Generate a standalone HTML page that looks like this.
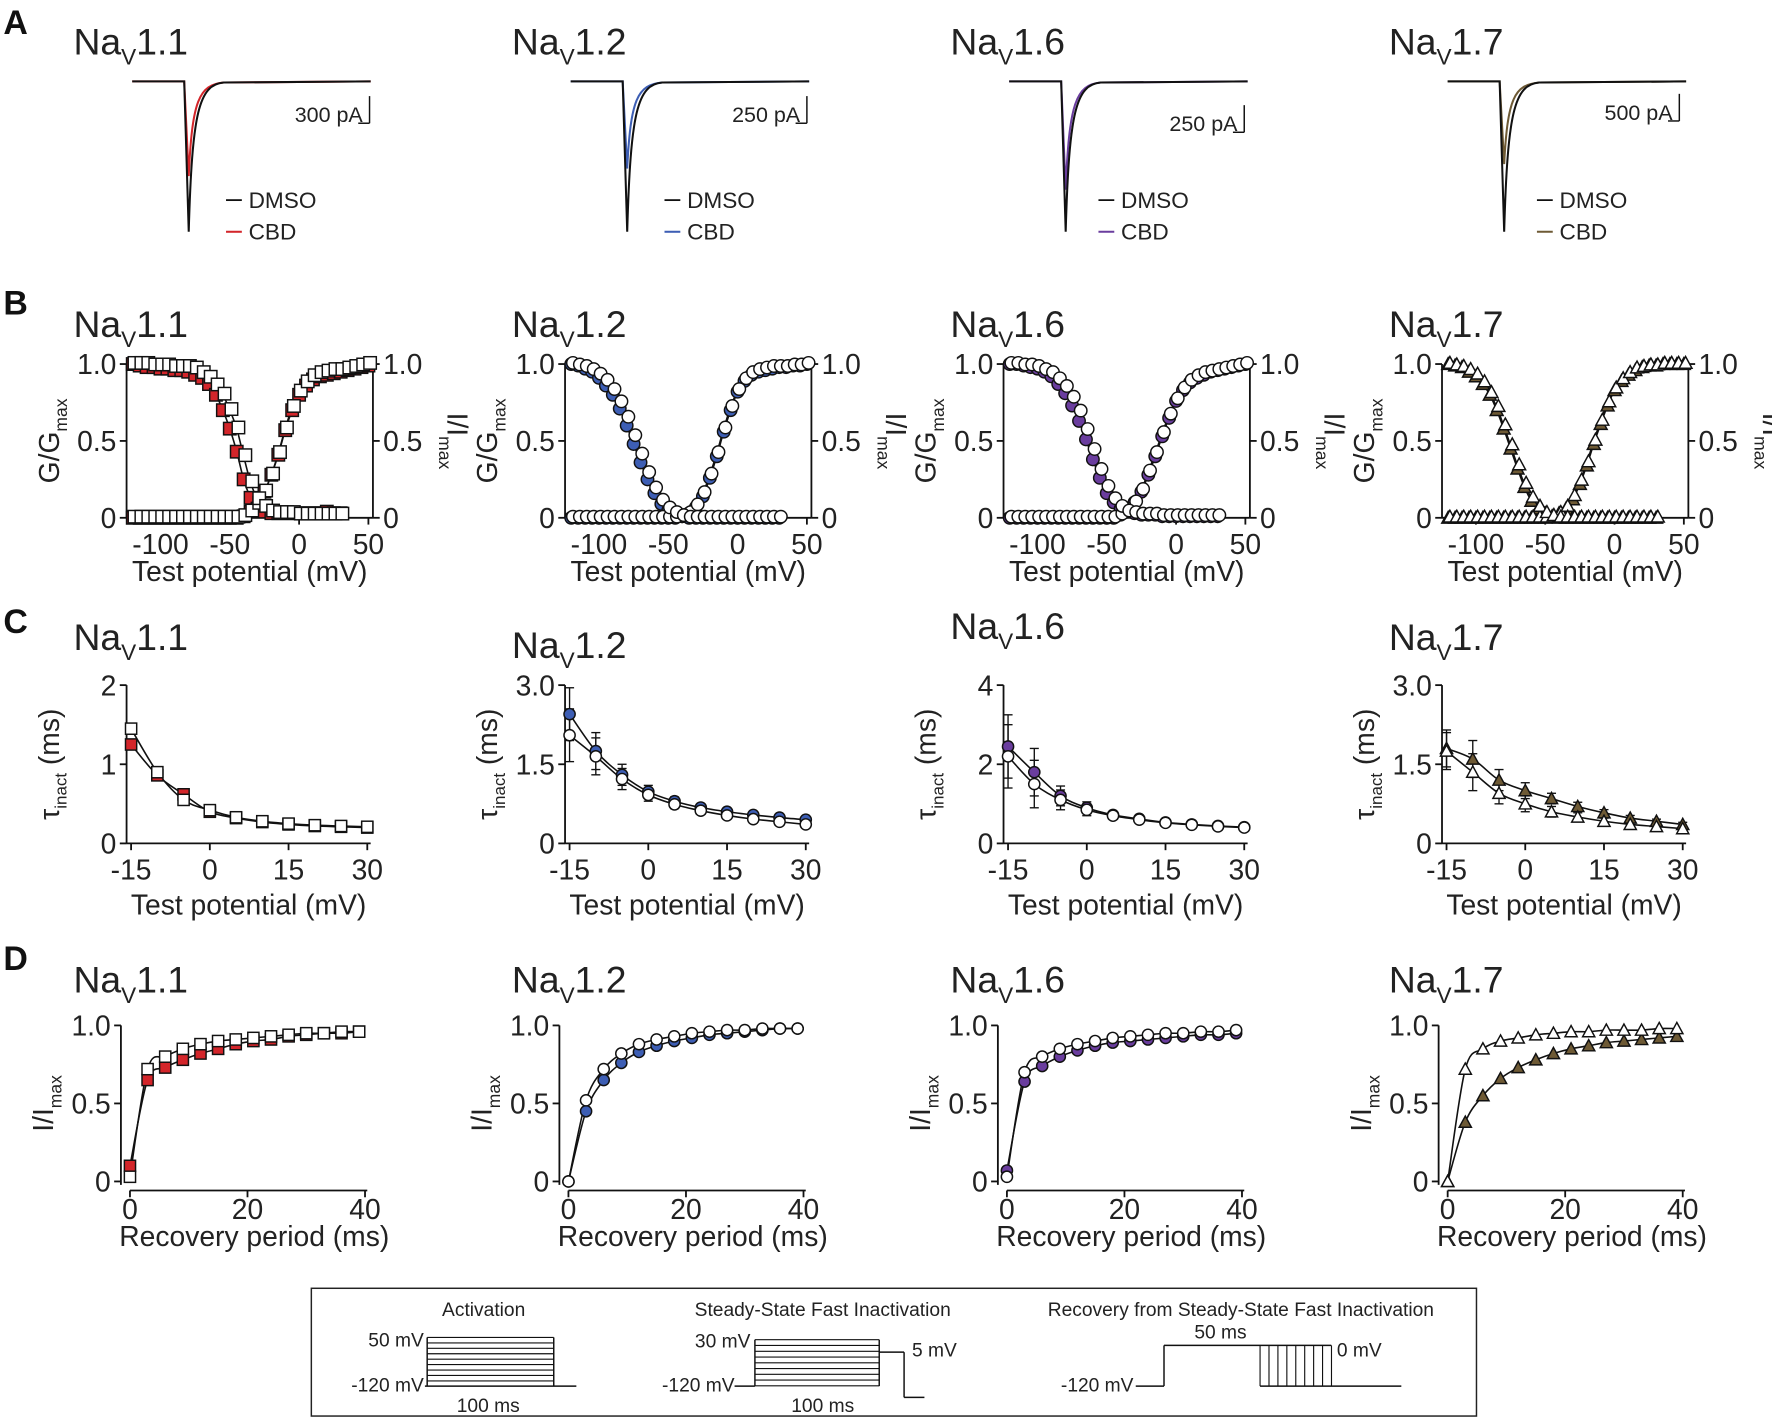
<!DOCTYPE html>
<html><head><meta charset="utf-8">
<style>
html,body{margin:0;padding:0;background:#fff;}
svg{display:block;font-family:"Liberation Sans",Arial,sans-serif;}
</style></head>
<body>
<svg id="fig" width="1772" height="1420" viewBox="0 0 1568 1256" preserveAspectRatio="none" xmlns="http://www.w3.org/2000/svg">
<g id="root"></g>
</svg>
<script>
// ---------- DATA ----------
const panelIds = ["1.1","1.2","1.6","1.7"];
const cbdColors = ["#d3252a","#3d5eb4","#6a3d9e","#6e5a35"];
const markers = ["square","circle","circle","triangle"];
// Row B: activation (V -120..50 step 5) and inactivation (V -120..30 step 5)
const actV = [-120,-115,-110,-105,-100,-95,-90,-85,-80,-75,-70,-65,-60,-55,-50,-45,-40,-35,-30,-25,-20,-15,-10,-5,0,5,10,15,20,25,30,35,40,45,50];
const inactV = [-120,-115,-110,-105,-100,-95,-90,-85,-80,-75,-70,-65,-60,-55,-50,-45,-40,-35,-30,-25,-20,-15,-10,-5,0,5,10,15,20,25,30];
const actDMSO = [
 [0,0,0,0,0,0,0,0,0,0,0,0,0,0,0,0,0.01,0.04,0.09,0.17,0.28,0.42,0.58,0.72,0.82,0.88,0.92,0.94,0.95,0.96,0.96,0.97,0.98,0.99,1.0],
 [0,0,0,0,0,0,0,0,0,0,0,0,0,0,0,0,0.01,0.03,0.08,0.16,0.28,0.42,0.58,0.72,0.83,0.9,0.94,0.96,0.97,0.98,0.98,0.98,0.99,0.99,1.0],
 [0,0,0,0,0,0,0,0,0,0,0,0,0,0,0,0,0.02,0.05,0.1,0.18,0.3,0.42,0.55,0.67,0.77,0.84,0.89,0.92,0.94,0.95,0.96,0.97,0.98,0.99,1.0],
 [0,0,0,0,0,0,0,0,0,0,0,0,0,0,0,0.01,0.03,0.07,0.14,0.24,0.36,0.5,0.63,0.75,0.84,0.9,0.94,0.97,0.98,0.99,0.99,1.0,1.0,1.0,1.0]];
const actCBD = [
 [0,0,0,0,0,0,0,0,0,0,0,0,0,0,0,0,0.01,0.04,0.09,0.17,0.28,0.41,0.57,0.7,0.8,0.86,0.9,0.92,0.93,0.94,0.95,0.96,0.97,0.98,0.99],
 [0,0,0,0,0,0,0,0,0,0,0,0,0,0,0,0,0.01,0.03,0.07,0.14,0.26,0.4,0.56,0.7,0.82,0.89,0.93,0.95,0.96,0.97,0.98,0.98,0.99,0.99,1.0],
 [0,0,0,0,0,0,0,0,0,0,0,0,0,0,0,0,0.02,0.05,0.1,0.17,0.28,0.4,0.53,0.65,0.76,0.83,0.88,0.91,0.93,0.95,0.96,0.97,0.98,0.99,1.0],
 [0,0,0,0,0,0,0,0,0,0,0,0,0,0,0,0.01,0.03,0.06,0.12,0.22,0.34,0.48,0.61,0.73,0.83,0.89,0.93,0.96,0.98,0.99,0.99,1.0,1.0,1.0,1.0]];
const inactDMSO = [
 [1,1,1,0.99,0.99,0.99,0.98,0.98,0.98,0.97,0.94,0.91,0.86,0.8,0.7,0.58,0.4,0.23,0.12,0.07,0.04,0.03,0.03,0.03,0.02,0.02,0.02,0.02,0.02,0.02,0.02],
 [1,0.99,0.98,0.96,0.93,0.89,0.83,0.75,0.65,0.53,0.41,0.29,0.19,0.11,0.06,0.03,0.01,0,0,0,0,0,0,0,0,0,0,0,0,0,0],
 [1,1,0.99,0.99,0.98,0.96,0.94,0.9,0.85,0.78,0.69,0.57,0.44,0.31,0.2,0.12,0.07,0.04,0.03,0.02,0.02,0.02,0.01,0.01,0.01,0.01,0.01,0.01,0.01,0.01,0.01],
 [1,0.99,0.98,0.96,0.93,0.88,0.81,0.72,0.6,0.47,0.34,0.22,0.13,0.07,0.03,0.01,0,0,0,0,0,0,0,0,0,0,0,0,0,0,0]];
const inactCBD = [
 [1,0.99,0.98,0.98,0.97,0.97,0.96,0.96,0.95,0.93,0.91,0.87,0.8,0.7,0.58,0.43,0.25,0.13,0.06,0.04,0.03,0.03,0.03,0.03,0.03,0.03,0.03,0.03,0.04,0.03,0.03],
 [1,0.99,0.97,0.95,0.91,0.86,0.8,0.71,0.6,0.48,0.36,0.25,0.16,0.09,0.05,0.02,0.01,0,0,0,0,0,0,0,0,0,0,0,0,0,0],
 [1,1,0.99,0.98,0.97,0.95,0.92,0.87,0.81,0.73,0.63,0.51,0.38,0.26,0.16,0.1,0.06,0.04,0.03,0.02,0.02,0.02,0.01,0.01,0.01,0.01,0.01,0.01,0.01,0.01,0.01],
 [1,0.99,0.98,0.95,0.92,0.87,0.8,0.7,0.58,0.45,0.32,0.2,0.11,0.06,0.03,0.01,0,0,0,0,0,0,0,0,0,0,0,0,0,0,0]];
// Row C: tau inact (V -15..30 step 5)
const tauV = [-15,-10,-5,0,5,10,15,20,25,30];
const tauMax = [2,3,4,3];
const tauTicks = [["0","1","2"],["0","1.5","3.0"],["0","2","4"],["0","1.5","3.0"]];
const tauDMSO = [
 [1.45,0.9,0.55,0.42,0.33,0.28,0.25,0.23,0.22,0.21],
 [2.05,1.65,1.22,0.92,0.74,0.62,0.53,0.46,0.41,0.36],
 [2.2,1.5,1.1,0.85,0.7,0.6,0.52,0.47,0.43,0.4],
 [1.75,1.35,0.95,0.75,0.6,0.5,0.42,0.36,0.32,0.28]];
const tauCBD = [
 [1.25,0.86,0.62,0.4,0.32,0.27,0.24,0.22,0.21,0.2],
 [2.45,1.75,1.3,0.98,0.8,0.68,0.6,0.54,0.49,0.45],
 [2.45,1.8,1.2,0.9,0.72,0.62,0.53,0.48,0.44,0.41],
 [1.8,1.6,1.2,1.0,0.85,0.7,0.58,0.48,0.42,0.36]];
const tauErr = [
 [0.05,0.05,0.05,0.03,0.02,0.02,0.02,0.02,0.02,0.02],
 [0.5,0.35,0.2,0.12,0.08,0.05,0.04,0.03,0.03,0.03],
 [0.8,0.6,0.25,0.15,0.08,0.05,0.04,0.03,0.03,0.02],
 [0.35,0.35,0.2,0.15,0.1,0.08,0.06,0.05,0.04,0.04]];
// Row D: recovery (ms)
const recT = [0,3,6,9,12,15,18,21,24,27,30,33,36,39];
const recDMSO = [
 [0.03,0.72,0.8,0.85,0.88,0.9,0.91,0.92,0.93,0.94,0.95,0.95,0.96,0.96],
 [0,0.52,0.72,0.82,0.88,0.91,0.93,0.95,0.96,0.97,0.97,0.98,0.98,0.98],
 [0.03,0.7,0.8,0.85,0.88,0.9,0.92,0.93,0.94,0.95,0.95,0.96,0.96,0.97],
 [0,0.72,0.85,0.9,0.92,0.94,0.95,0.96,0.96,0.97,0.97,0.97,0.98,0.98]];
const recCBD = [
 [0.1,0.65,0.73,0.78,0.82,0.85,0.88,0.9,0.91,0.93,0.94,0.95,0.95,0.96],
 [0,0.45,0.65,0.76,0.83,0.87,0.9,0.92,0.94,0.95,0.96,0.97,0.98,0.98],
 [0.07,0.64,0.74,0.8,0.84,0.87,0.89,0.9,0.91,0.92,0.93,0.94,0.94,0.95],
 [0,0.38,0.55,0.66,0.73,0.78,0.82,0.85,0.87,0.89,0.9,0.91,0.92,0.93]];
// Row A: peak currents (fraction of DMSO peak depth)
const peakCBD = [0.63,0.58,0.72,0.55];
const scaleLabels = ["300 pA","250 pA","250 pA","500 pA"];

// ---------- HELPERS ----------
const NS="http://www.w3.org/2000/svg";
const root=document.getElementById('root');
const TF=25;
function el(tag,attrs,parent){const e=document.createElementNS(NS,tag);for(const k in attrs)e.setAttribute(k,attrs[k]);(parent||root).appendChild(e);return e;}
function txt(x,y,s,size,anchor,parent,extra){const t=el('text',Object.assign({x:x,y:y,'font-size':size,'text-anchor':anchor||'start',fill:'#222'},extra||{}),parent);t.textContent=s;return t;}
function line(x1,y1,x2,y2,parent,w){return el('line',{x1,y1,x2,y2,stroke:'#111','stroke-width':w||1.6},parent);}
function smoothPath(pts){let d='M'+pts[0][0]+','+pts[0][1];for(let i=0;i<pts.length-1;i++){const p0=pts[i-1]||pts[i],p1=pts[i],p2=pts[i+1],p3=pts[i+2]||p2;d+=' C'+(p1[0]+(p2[0]-p0[0])/6)+','+(p1[1]+(p2[1]-p0[1])/6)+' '+(p2[0]-(p3[0]-p1[0])/6)+','+(p2[1]-(p3[1]-p1[1])/6)+' '+p2[0]+','+p2[1];}return d;}
function marker(type,x,y,fill,parent,s){
  s=s||1;
  if(type==='square')return el('rect',{x:x-5.5*s,y:y-5.5*s,width:11*s,height:11*s,fill:fill,stroke:'#111','stroke-width':1.3},parent);
  if(type==='circle')return el('circle',{cx:x,cy:y,r:5.5*s,fill:fill,stroke:'#111','stroke-width':1.3},parent);
  return el('polygon',{points:(x)+','+(y-6*s)+' '+(x-6*s)+','+(y+5*s)+' '+(x+6*s)+','+(y+5*s),fill:fill,stroke:'#111','stroke-width':1.3},parent);
}
function title(x,y,id,parent){
  const t=el('text',{x:x,y:y,'font-size':33,fill:'#222'},parent);
  
  const a=document.createElementNS(NS,'tspan');a.textContent='Na';t.appendChild(a);
  const b=document.createElementNS(NS,'tspan');b.setAttribute('font-size','20');b.setAttribute('dy','9');b.textContent='V';t.appendChild(b);
  const c=document.createElementNS(NS,'tspan');c.setAttribute('dy','-9');c.textContent=id;t.appendChild(c);
}
function letter(x,y,s){const t=txt(x,y,s,30,'start',root,{'font-weight':'bold',fill:'#111'});}
function rotLabel(x,y,main,sub,size,parent,rot){
  const t=el('text',{x:0,y:0,'font-size':size,'text-anchor':'middle',fill:'#222',transform:'translate('+x+','+y+') rotate('+rot+')'},parent);
  const a=document.createElementNS(NS,'tspan');a.textContent=main;t.appendChild(a);
  const b=document.createElementNS(NS,'tspan');b.setAttribute('font-size',size*0.62);b.setAttribute('dy',size*0.3);b.textContent=sub;t.appendChild(b);
  return t;
}

const colX=[0,388,776,1164];
letter(3,30,'A');letter(3,278,'B');letter(3,560,'C');letter(3,858,'D');

// ---------- ROW A ----------
for(let p=0;p<4;p++){
  const g=el('g',{});
  const ox=colX[p];
  title(65+ox,48,panelIds[p],g);
  const base=72, peakY=205, x0=117+ox, xs=163+ox, x1=328+ox;
  function trace(depth,col){
    const py=base+(peakY-base)*depth;
    const d='M'+x0+','+base+' L'+xs+','+base+' L'+(xs+4)+','+py+' C'+(xs+7)+','+(base+(py-base)*0.2)+' '+(xs+13)+','+(base+3)+' '+(xs+35)+','+(base+1)+' L'+x1+','+base;
    return el('path',{d:d,fill:'none',stroke:col,'stroke-width':1.8},g);
  }
  trace(peakCBD[p],cbdColors[p]);trace(1,'#111');
  const sbx=[327,714,1101,1486][p], sby=[85,85,93,83][p];
  line(sbx,sby,sbx,sby+24,g,1.3);line(sbx-10,sby+24,sbx,sby+24,g,1.3);
  txt(sbx-6,sby+23,scaleLabels[p],19,'end',g);
  const lx=[200,588,972,1360][p];
  line(lx,177,lx+14,177,g,1.6);txt(lx+20,184,'DMSO',20,'start',g);
  el('line',{x1:lx,y1:205,x2:lx+14,y2:205,stroke:cbdColors[p],'stroke-width':1.8},g);txt(lx+20,212,'CBD',20,'start',g);
}

// ---------- ROW B ----------
for(let p=0;p<4;p++){
  const ox=colX[p];
  const g=el('g',{});
  title(65+ox,298,panelIds[p],g);
  const L=112+ox,R=330+ox,T=322,B=458;
  const X=v=>142+ox+(v+100)*(184/150), Y=f=>B-(B-T)*f;
  line(L,T,L,B,g);line(R,T,R,B,g);line(L,B,R,B,g);
  [[0,'0'],[0.5,'0.5'],[1,'1.0']].forEach(([f,s])=>{line(L-6,Y(f),L,Y(f),g);txt(L-9,Y(f)+9,s,TF,'end',g);line(R,Y(f),R+6,Y(f),g);txt(R+9,Y(f)+9,s,TF,'start',g);});
  [[-100,'-100'],[-50,'-50'],[0,'0'],[50,'50']].forEach(([v,s])=>{line(X(v),B,X(v),B+6,g);txt(X(v),B+32,s,TF,'middle',g);});
  txt((L+R)/2,B+56,'Test potential (mV)',TF,'middle',g);
  const yl=rotLabel(L-60,(T+B)/2,'G/G','max',TF,g,-90);
  const yr=rotLabel(R+66,(T+B)/2,'I/I','max',TF,g,90);
  [[actCBD[p],actV],[inactCBD[p],inactV],[actDMSO[p],actV],[inactDMSO[p],inactV]].forEach(([arr,vs])=>{
    el('path',{d:smoothPath(vs.map((v,i)=>[X(v),Y(arr[i])])),fill:'none',stroke:'#111','stroke-width':1.4},g);
  });
  const s=markers[p]==='triangle'?0.95:1;
  actV.forEach((v,i)=>{const m=marker(markers[p],X(v),Y(actCBD[p][i]),cbdColors[p],g,s);});
  inactV.forEach((v,i)=>{const m=marker(markers[p],X(v),Y(inactCBD[p][i]),cbdColors[p],g,s);});
  actV.forEach((v,i)=>{const m=marker(markers[p],X(v)+1.5,Y(actDMSO[p][i])-1,'#fff',g,s);});
  inactV.forEach((v,i)=>{const m=marker(markers[p],X(v)+1.5,Y(inactDMSO[p][i])-1,'#fff',g,s);});
}

// ---------- ROW C ----------
for(let p=0;p<4;p++){
  const ox=colX[p];
  const g=el('g',{});
  title(65+ox,[575,582,565,575][p],panelIds[p],g);
  const L=112+ox,R=328+ox,T=606,B=746;
  const X=v=>116+ox+(v+15)*(209/45), Y=f=>B-(B-T)*f/tauMax[p];
  line(L,T,L,B,g);line(L,B,R,B,g);
  tauTicks[p].forEach((s,i)=>{const f=tauMax[p]*i/2;line(L-6,Y(f),L,Y(f),g);txt(L-9,Y(f)+9,s,TF,'end',g);});
  [[-15,'-15'],[0,'0'],[15,'15'],[30,'30']].forEach(([v,s])=>{line(X(v),B,X(v),B+6,g);txt(X(v),B+32,s,TF,'middle',g);});
  txt((L+R)/2,B+63,'Test potential (mV)',TF,'middle',g);
  const t=el('text',{transform:'translate('+(L-60)+','+((T+B)/2)+') rotate(-90)','font-size':TF,'text-anchor':'middle',fill:'#222'},g);
  
  t.innerHTML='<tspan>τ</tspan><tspan font-size="15" dy="7">inact</tspan><tspan dy="-7"> (ms)</tspan>';
  [tauCBD[p],tauDMSO[p]].forEach(arr=>el('path',{d:smoothPath(tauV.map((v,i)=>[X(v),Y(arr[i])])),fill:'none',stroke:'#111','stroke-width':1.4},g));
  tauV.forEach((v,i)=>{const e=tauErr[p][i];[tauCBD[p][i],tauDMSO[p][i]].forEach(y=>{line(X(v),Y(y+e),X(v),Y(y-e),g,1.2);line(X(v)-4,Y(y+e),X(v)+4,Y(y+e),g,1.2);line(X(v)-4,Y(y-e),X(v)+4,Y(y-e),g,1.2);});});
  const s=0.9;
  tauV.forEach((v,i)=>{const m=marker(markers[p],X(v),Y(tauCBD[p][i]),cbdColors[p],g,s);});
  tauV.forEach((v,i)=>{const m=marker(markers[p],X(v),Y(tauDMSO[p][i]),'#fff',g,s);});
}

// ---------- ROW D ----------
for(let p=0;p<4;p++){
  const ox=colX[p]+[0,0,0,2][p];
  const g=el('g',{});
  title(65+ox-[0,0,0,2][p],878,panelIds[p],g);
  const L=107+ox,R=325+ox,T=907,B=1045;
  const X=v=>115+ox+v*(208/40), Y=f=>B-(B-T)*f;
  line(L,T,L,B+3,g);line(X(0),B+8,R,B+8,g);
  [[0,'0'],[0.5,'0.5'],[1,'1.0']].forEach(([f,s])=>{line(L-6,Y(f),L,Y(f),g);txt(L-9,Y(f)+9,s,TF,'end',g);});
  [[0,'0'],[20,'20'],[40,'40']].forEach(([v,s])=>{line(X(v),B+8,X(v),B+14,g);txt(X(v),B+33,s,TF,'middle',g);});
  txt((X(0)+R)/2+5,B+57,'Recovery period (ms)',TF,'middle',g);
  const yl=rotLabel(L-60,(T+B)/2,'I/I','max',TF,g,-90);
  [recCBD[p],recDMSO[p]].forEach(arr=>el('path',{d:smoothPath(recT.map((v,i)=>[X(v),Y(arr[i])])),fill:'none',stroke:'#111','stroke-width':1.4},g));
  const s=0.9;
  recT.forEach((v,i)=>{const m=marker(markers[p],X(v),Y(recCBD[p][i]),cbdColors[p],g,s);});
  recT.forEach((v,i)=>{const m=marker(markers[p],X(v),Y(recDMSO[p][i]),'#fff',g,s);});
}

// ---------- PROTOCOL BOX ----------
(function(){
  const g=el('g',{});
  el('rect',{x:275.5,y:1139.5,width:1031,height:113,fill:'none',stroke:'#222','stroke-width':1.3},g);
  const fs=17;
  txt(428,1164,'Activation',fs,'middle',g);
  txt(375,1191,'50 mV',fs,'end',g);txt(375,1231,'-120 mV',fs,'end',g);txt(432,1249,'100 ms',fs,'middle',g);
  line(376,1226,510,1226,g,1.3);line(378,1183,378,1226,g,1.3);line(490,1183,490,1226,g,1.3);
  for(let i=0;i<9;i++)line(378,1183+i*4.8,490,1183+i*4.8,g,1);
  txt(728,1164,'Steady-State Fast Inactivation',fs,'middle',g);
  txt(664,1192,'30 mV',fs,'end',g);txt(650,1231,'-120 mV',fs,'end',g);txt(728,1249,'100 ms',fs,'middle',g);txt(807,1200,'5 mV',fs,'start',g);
  line(650,1226,668,1226,g,1.3);line(668,1185,668,1226,g,1.3);line(778,1185,778,1226,g,1.3);
  for(let i=0;i<9;i++)line(668,1185+i*5.1,778,1185+i*5.1,g,1);
  line(778,1196,800,1196,g,1.3);line(800,1196,800,1236,g,1.3);line(800,1236,818,1236,g,1.3);
  txt(1098,1164,'Recovery from Steady-State Fast Inactivation',fs,'middle',g);
  txt(1003,1231,'-120 mV',fs,'end',g);txt(1080,1184,'50 ms',fs,'middle',g);txt(1183,1200,'0 mV',fs,'start',g);
  line(1005,1226,1030,1226,g,1.3);line(1030,1190,1030,1226,g,1.3);line(1030,1190,1178,1190,g,1.3);
  for(let i=0;i<9;i++)line(1115+i*7.9,1190,1115+i*7.9,1226,g,1);
  line(1115,1226,1240,1226,g,1.3);
})();
</script>
</body></html>
